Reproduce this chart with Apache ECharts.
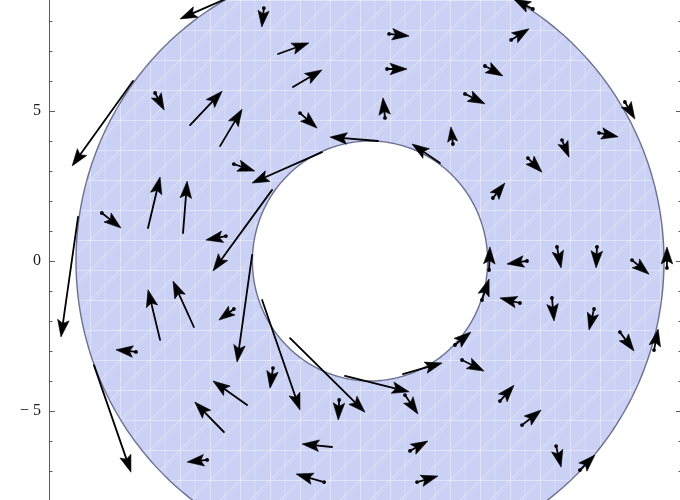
<!DOCTYPE html>
<html><head><meta charset="utf-8">
<script src="https://cdn.jsdelivr.net/npm/echarts@6/dist/echarts.min.js"></script>
<style>html,body{margin:0;padding:0;background:#fff}#c{width:680px;height:500px}</style>
</head><body><div id="c"></div>
<script>
// Vector field samples: tail position (x, y) and vector components (u, v)
const tailX = [-4.83,-3.61,-3.13,-2.62,-6.12,-5.10,-7.31,-2.38,0.65,0.58,0.51,5.54,4.80,3.91,3.23,2.82,8.67,7.79,6.53,5.37,4.18,0.27,2.38,-1.63,-3.33,-4.63,-4.90,-4.01,-3.67,-2.72,-0.85,1.12,2.89,4.05,3.81,3.13,5.34,6.36,7.72,8.91,10.10,5.10,6.19,7.62,8.50,9.66,-8.06,-9.93,-9.39,-9.12,-7.96,-7.55,-6.36,-7.14,-5.99,-4.63,-4.18,-4.97,-3.30,-1.05,1.19,-1.29,-1.56,1.36,1.60,-5.54,4.42,5.17,6.33,7.14];
const tailY = [8.77,8.43,6.90,5.80,4.53,3.83,5.60,4.93,7.57,6.40,4.77,8.40,7.37,6.50,5.57,3.90,5.30,4.27,4.03,3.43,2.10,4.00,3.27,3.63,2.37,3.23,0.83,0.20,-1.30,-2.57,-3.83,-3.77,-2.80,-0.30,-1.30,-3.30,0.00,0.47,0.47,0.03,-0.23,-1.40,-1.23,-1.60,-2.37,-2.97,6.00,1.47,-3.47,1.60,-3.03,1.10,0.93,-2.63,-2.20,-1.60,-4.80,-5.70,-3.57,-4.63,-4.47,-6.20,-7.37,-6.33,-7.37,-6.63,-4.67,-5.47,-6.17,-6.97];
const vecU = [-1.63,-0.07,1.05,0.99,1.09,0.75,0.31,0.58,0.68,0.68,-0.07,-0.65,0.61,0.61,0.68,-0.07,0.34,0.65,0.24,0.48,0.41,-1.63,-0.95,-2.38,-2.01,0.71,-0.68,-0.51,1.29,2.55,2.18,1.33,0.54,0.03,0.24,0.75,-0.68,0.14,-0.03,0.58,0.00,-0.68,0.07,-0.17,0.48,0.14,-2.07,-0.58,1.26,0.65,-0.68,0.41,0.14,-0.41,-0.71,-0.51,-1.16,-0.99,-0.10,-0.03,0.44,-1.02,-0.95,0.61,0.71,-0.68,0.48,0.65,0.17,0.51];
const vecV = [-0.70,-0.63,0.37,0.57,1.13,1.23,-0.57,-0.50,-0.07,0.00,0.67,0.33,0.37,-0.33,-0.33,0.57,-0.57,-0.13,-0.57,-0.47,0.50,0.13,0.63,-1.03,-2.70,-0.23,-0.13,-3.57,-3.67,-2.47,-0.53,0.37,0.43,0.77,0.70,-0.37,-0.10,-0.70,-0.70,-0.47,0.70,0.17,-0.77,-0.70,-0.63,0.70,-2.83,-4.00,-3.57,-0.50,0.07,1.70,1.73,1.67,1.53,-0.37,0.80,1.00,-0.67,-0.67,-0.63,0.10,0.27,0.33,0.20,-0.07,0.53,0.50,-0.70,0.50];
// Region: annulus radii
const innerRadius = 4;
const outerRadius = 10;
// Y tick labels
const yTickValues = [-10, -5, 0, 5, 10];
const yTickLabels = ['\u2212 10', '\u2212 5', '0', '5', '10'];

function makePattern() {
  const c = document.createElement('canvas'); c.width = 30; c.height = 30;
  const g = c.getContext('2d');
  g.fillStyle = '#cad1f5'; g.fillRect(0, 0, 30, 30);
  g.strokeStyle = 'rgba(255,255,255,0.42)'; g.lineWidth = 1;
  g.beginPath();
  g.moveTo(0, 0.5); g.lineTo(30, 0.5);
  g.moveTo(0.5, 0); g.lineTo(0.5, 30);
  g.moveTo(0, 30); g.lineTo(30, 0);
  g.stroke();
  g.strokeStyle = 'rgba(255,255,255,0.22)';
  g.beginPath(); g.moveTo(3, 30); g.lineTo(30, 3); g.moveTo(15,0.5); g.lineTo(15,30); g.stroke();
  return c;
}
const pattern = makePattern();

const arrowData = tailX.map((x, i) => [x, tailY[i], vecU[i], vecV[i]]);

const chart = echarts.init(document.getElementById('c'), null, { renderer: 'canvas' });
const axisCol = '#5a5a5a';
function yAx(pos, showLabel) {
  return {
    type: 'value', position: pos, min: -10, max: 10, interval: 5,
    axisLine: { show: true, onZero: false, lineStyle: { color: axisCol, width: 1 } },
    axisTick: { show: true, inside: true, length: 6, lineStyle: { color: axisCol, width: 1 } },
    minorTick: { show: true, splitNumber: 5, length: 3.5, lineStyle: { color: axisCol, width: 1 } },
    splitLine: { show: false },
    axisLabel: {
      show: showLabel, margin: 8, fontFamily: 'Liberation Serif', fontSize: 16, color: '#1a1a1a',
      formatter: v => { const k = yTickValues.indexOf(v); return k >= 0 ? yTickLabels[k] : ''; }
    }
  };
}
chart.setOption({
  animation: false,
  grid: { left: 49, top: -39, width: 633, height: 600, outerBoundsMode: 'none', containLabel: false },
  xAxis: { type: 'value', min: -10.918, max: 10.612, show: false },
  yAxis: [yAx('left', true), yAx('right', false)],
  series: [
    {
      type: 'custom', xAxisIndex: 0, yAxisIndex: 0, silent: true, z: 1,
      data: [[innerRadius, outerRadius]],
      renderItem: function (params, api) {
        const ri = api.value(0), ro = api.value(1);
        const outer = [], inner = [];
        for (let i = 0; i < 360; i++) {
          const a = i * Math.PI / 180;
          outer.push(api.coord([ro * Math.cos(a), ro * Math.sin(a)]));
          inner.push(api.coord([ri * Math.cos(a), ri * Math.sin(a)]));
        }
        return {
          type: 'group', children: [
            { type: 'polygon', shape: { points: outer }, style: { fill: { image: pattern, repeat: 'repeat' }, stroke: '#6b7192', lineWidth: 1.4 } },
            { type: 'polygon', shape: { points: inner }, style: { fill: '#ffffff', stroke: '#6b7192', lineWidth: 1.4 } }
          ]
        };
      }
    },
    {
      type: 'custom', xAxisIndex: 0, yAxisIndex: 0, silent: true, z: 3,
      data: arrowData,
      renderItem: function (params, api) {
        const x = api.value(0), y = api.value(1), u = api.value(2), v = api.value(3);
        const p0 = api.coord([x, y]), p1 = api.coord([x + u, y + v]);
        const dx = p1[0] - p0[0], dy = p1[1] - p0[1];
        const len = Math.hypot(dx, dy);
        const ux = dx / len, uy = dy / len, nx = -uy, ny = ux;
        const L = Math.min(17, 0.86 * len), W = L * 0.34;
        const bx = p1[0] - ux * L, by = p1[1] - uy * L;
        const nxp = p1[0] - ux * L * 0.8, nyp = p1[1] - uy * L * 0.8;
        const children = [
          { type: 'line', shape: { x1: p0[0], y1: p0[1], x2: nxp, y2: nyp }, style: { stroke: '#000', lineWidth: 1.8, lineCap: 'round' } },
          { type: 'polygon', shape: { points: [[p1[0], p1[1]], [bx + nx * W, by + ny * W], [nxp, nyp], [bx - nx * W, by - ny * W]] }, style: { fill: '#000', stroke: '#000', lineWidth: 0.6, lineJoin: 'round' } }
        ];
        if (len < 30) children.push({ type: 'circle', shape: { cx: p0[0], cy: p0[1], r: 1.9 }, style: { fill: '#000' } });
        return { type: 'group', children };
      }
    }
  ]
});
</script></body></html>
